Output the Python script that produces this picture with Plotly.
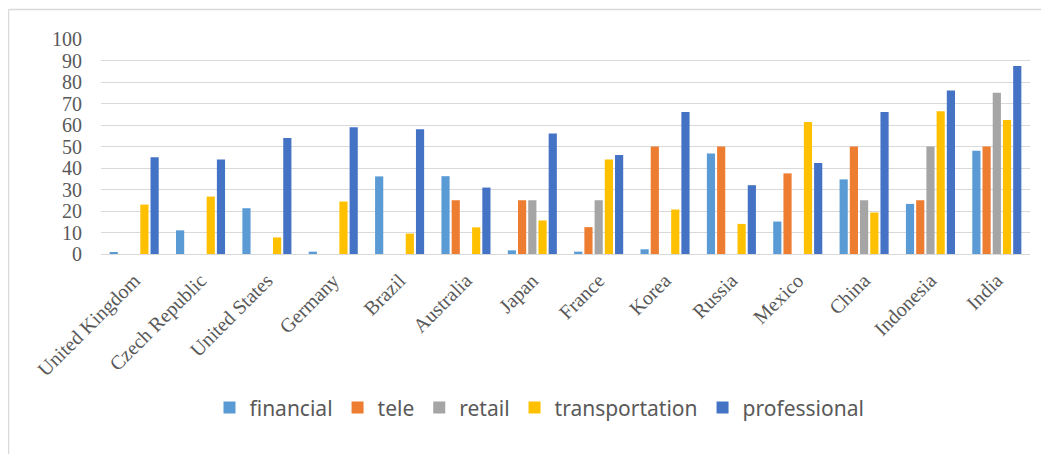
import plotly.graph_objects as go

countries = ["United Kingdom", "Czech Republic", "United States", "Germany", "Brazil",
             "Australia", "Japan", "France", "Korea", "Russia", "Mexico", "China",
             "Indonesia", "India"]

financial = [0.5, 11, 21.3, 1.1, 36.1, 36.2, 1.7, 1.1, 2.2, 46.7, 15.1, 34.7, 23.3, 48]
tele = [0, 0, 0, 0, 0, 25, 25, 12.5, 50, 50, 37.5, 50, 25, 50]
retail = [0, 0, 0, 0, 0, 0, 25, 25, 0, 0, 0, 25, 50, 75]
transportation = [23, 26.7, 7.7, 24.4, 9.5, 12.4, 15.6, 43.9, 20.7, 14, 61.4, 19.3, 66.4, 62.3]
professional = [45, 44, 54, 59, 58, 30.9, 56, 46, 66, 32, 42.3, 66, 76, 87.4]

series = [
    ("financial", financial, "#5B9BD5"),
    ("tele", tele, "#ED7D31"),
    ("retail", retail, "#A5A5A5"),
    ("transportation", transportation, "#FFC000"),
    ("professional", professional, "#4472C4"),
]
yticks = [0, 10, 20, 30, 40, 50, 60, 70, 80, 90, 100]

fig = go.Figure()
for name, vals, color in series:
    fig.add_trace(go.Bar(x=countries, y=vals, name=name,
                         marker=dict(color=color, line=dict(width=0))))

fig.update_layout(
    width=1041, height=446,
    margin=dict(l=93, r=19, t=31, b=200, autoexpand=False),
    paper_bgcolor="white", plot_bgcolor="white",
    barmode="group", bargap=0.23, bargroupgap=0.2,
    font=dict(family="Liberation Serif", size=20, color="#595959"),
    legend=dict(orientation="h", x=0.472, xanchor="center", y=-0.716, yanchor="middle",
                font=dict(family="Noto Sans", size=21, color="#595959"),
                itemwidth=30, tracegroupgap=0),
    showlegend=True,
)
fig.update_xaxes(tickangle=-45, showgrid=False, showline=False, ticks="",
                 ticklabelstandoff=10,
                 tickfont=dict(family="Liberation Serif", size=20, color="#595959"))
fig.update_yaxes(range=[0, 100], tickvals=yticks, showgrid=True, gridcolor="#D9D9D9",
                 gridwidth=1.3, zeroline=True, zerolinecolor="#D9D9D9", zerolinewidth=1.3,
                 showline=False, ticks="", ticklabelstandoff=18,
                 tickfont=dict(family="Liberation Serif", size=20, color="#595959"))

# chart frame (left and top edges visible)
fig.add_shape(type="line", xref="paper", yref="paper", x0=-0.0996, x1=1.03, y0=1.137, y1=1.137,
              line=dict(color="#D9D9D9", width=1.5))
fig.add_shape(type="line", xref="paper", yref="paper", x0=-0.0996, x1=-0.0996, y0=1.137, y1=-0.95,
              line=dict(color="#D9D9D9", width=1.5))

fig.write_html("out.html")
